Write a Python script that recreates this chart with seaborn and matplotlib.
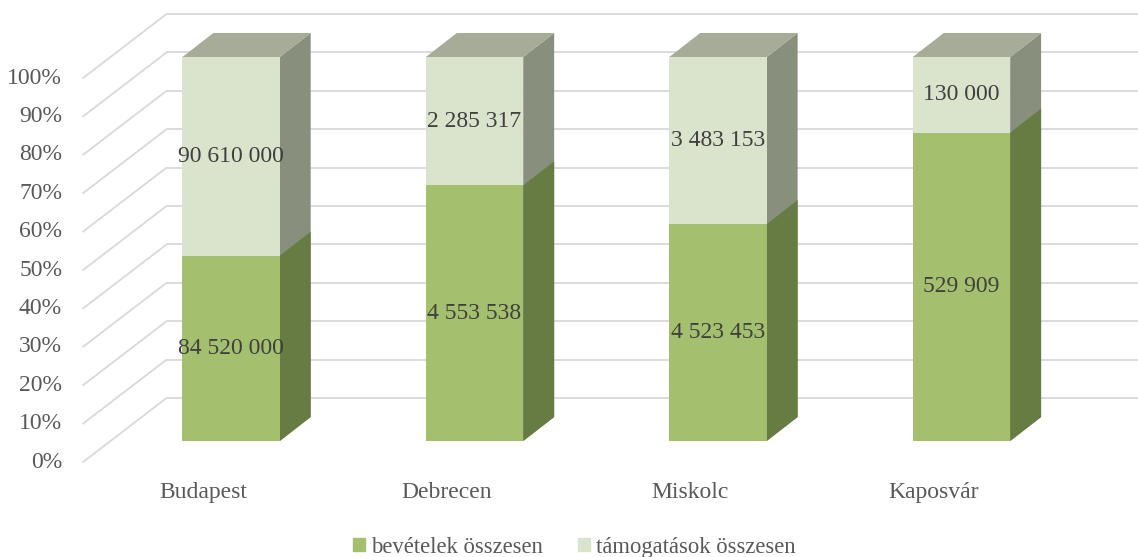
import matplotlib
matplotlib.use("Agg")
import matplotlib.pyplot as plt
import seaborn as sns
import pandas as pd
from matplotlib.patches import Polygon, Patch

cities = ["Budapest", "Debrecen", "Miskolc", "Kaposvár"]
bevetelek = [84520000, 4553538, 4523453, 529909]
tamogatasok = [90610000, 2285317, 3483153, 130000]
series_names = ["bevételek összesen", "támogatások összesen"]
yticks = list(range(0, 101, 10))

GREEN, GREEN_SIDE = "#a4c06f", "#677c42"
LIGHT, LIGHT_SIDE, LIGHT_TOP = "#dae4cc", "#898f7d", "#a6ac98"
GRID = "#d9d9d9"
TXT, TXT_DARK = "#595959", "#404040"
FS = 17

df = pd.DataFrame({"city": cities, "bev": bevetelek, "tam": tamogatasok})
df["bev_pct"] = df.bev / (df.bev + df.tam) * 100
df["total_pct"] = 100.0

sns.set_style("white")
plt.rcParams["font.family"] = ["Liberation Serif", "DejaVu Serif"]

fig = plt.figure(figsize=(11.38, 5.57), dpi=100)
ax = fig.add_axes([0, 0, 1, 1])

W = 0.40
DX, DY = 0.127, 6.25     # depth of a bar
BX, BY = 0.23, 11.2      # back wall, relative to the bars' front plane
LX, LY = -0.113, -5.47   # axis (label) plane, relative to the front plane
X0 = -0.495              # left edge of the floor/wall

sns.barplot(data=df, x="city", y="total_pct", color=LIGHT, width=W, saturation=1, ax=ax,
            zorder=3, edgecolor="none", linewidth=0)
sns.barplot(data=df, x="city", y="bev_pct", color=GREEN, width=W, saturation=1, ax=ax,
            zorder=3, edgecolor="none", linewidth=0)

# front plane: 243.5 px per category, 384 px for 0-100 %
ax.set_xlim(-0.949, 3.725)
ax.set_ylim(-30.2, 114.85)
ax.axis("off")

# 3d gridlines: diagonal on the side wall then flat across the back wall
for t in yticks:
    ax.plot([X0 + LX, X0 + BX], [t + LY, t + BY], color=GRID, lw=1.3, zorder=1)
    ax.plot([X0 + BX, 3.725], [t + BY, t + BY], color=GRID, lw=1.3, zorder=1)
    ax.text(X0 + LX - 0.086, t + LY, f"{t}%", ha="right", va="center", fontsize=FS, color=TXT)

n = len(cities)
light_bars, green_bars = ax.patches[:n], ax.patches[n:2 * n]

def side(p, color):
    x1 = p.get_x() + p.get_width()
    y0, y1 = p.get_y(), p.get_y() + p.get_height()
    ax.add_patch(Polygon([(x1, y0), (x1 + DX, y0 + DY), (x1 + DX, y1 + DY), (x1, y1)],
                         closed=True, facecolor=color, edgecolor="none", zorder=2.5))

for p in light_bars:
    side(p, LIGHT_SIDE)
    x0, x1, top = p.get_x(), p.get_x() + p.get_width(), p.get_height()
    ax.add_patch(Polygon([(x0, top), (x1, top), (x1 + DX, top + DY), (x0 + DX, top + DY)],
                         closed=True, facecolor=LIGHT_TOP, edgecolor="none", zorder=2.5))
for p in green_bars:
    side(p, GREEN_SIDE)

fmt = lambda v: f"{v:,}".replace(",", " ")
for i, row in df.iterrows():
    ax.text(i, row.bev_pct / 2, fmt(row.bev), ha="center", va="center", fontsize=FS, color=TXT_DARK, zorder=4)
    ax.text(i, row.bev_pct + (100 - row.bev_pct) / 2, fmt(row.tam), ha="center", va="center",
            fontsize=FS, color=TXT_DARK, zorder=4)
    ax.text(i + LX, -13.3, row.city, ha="center", va="center", fontsize=FS, color=TXT)

handles = [Patch(color=GREEN), Patch(color=LIGHT)]
leg = fig.legend(handles, series_names, loc="lower center", bbox_to_anchor=(0.505, -0.038), ncol=2,
                 frameon=False, fontsize=16.3, handlelength=0.5, handleheight=0.5,
                 handletextpad=0.3, columnspacing=1.55)
for t in leg.get_texts():
    t.set_color(TXT)

fig.savefig("out.png", dpi=100)
